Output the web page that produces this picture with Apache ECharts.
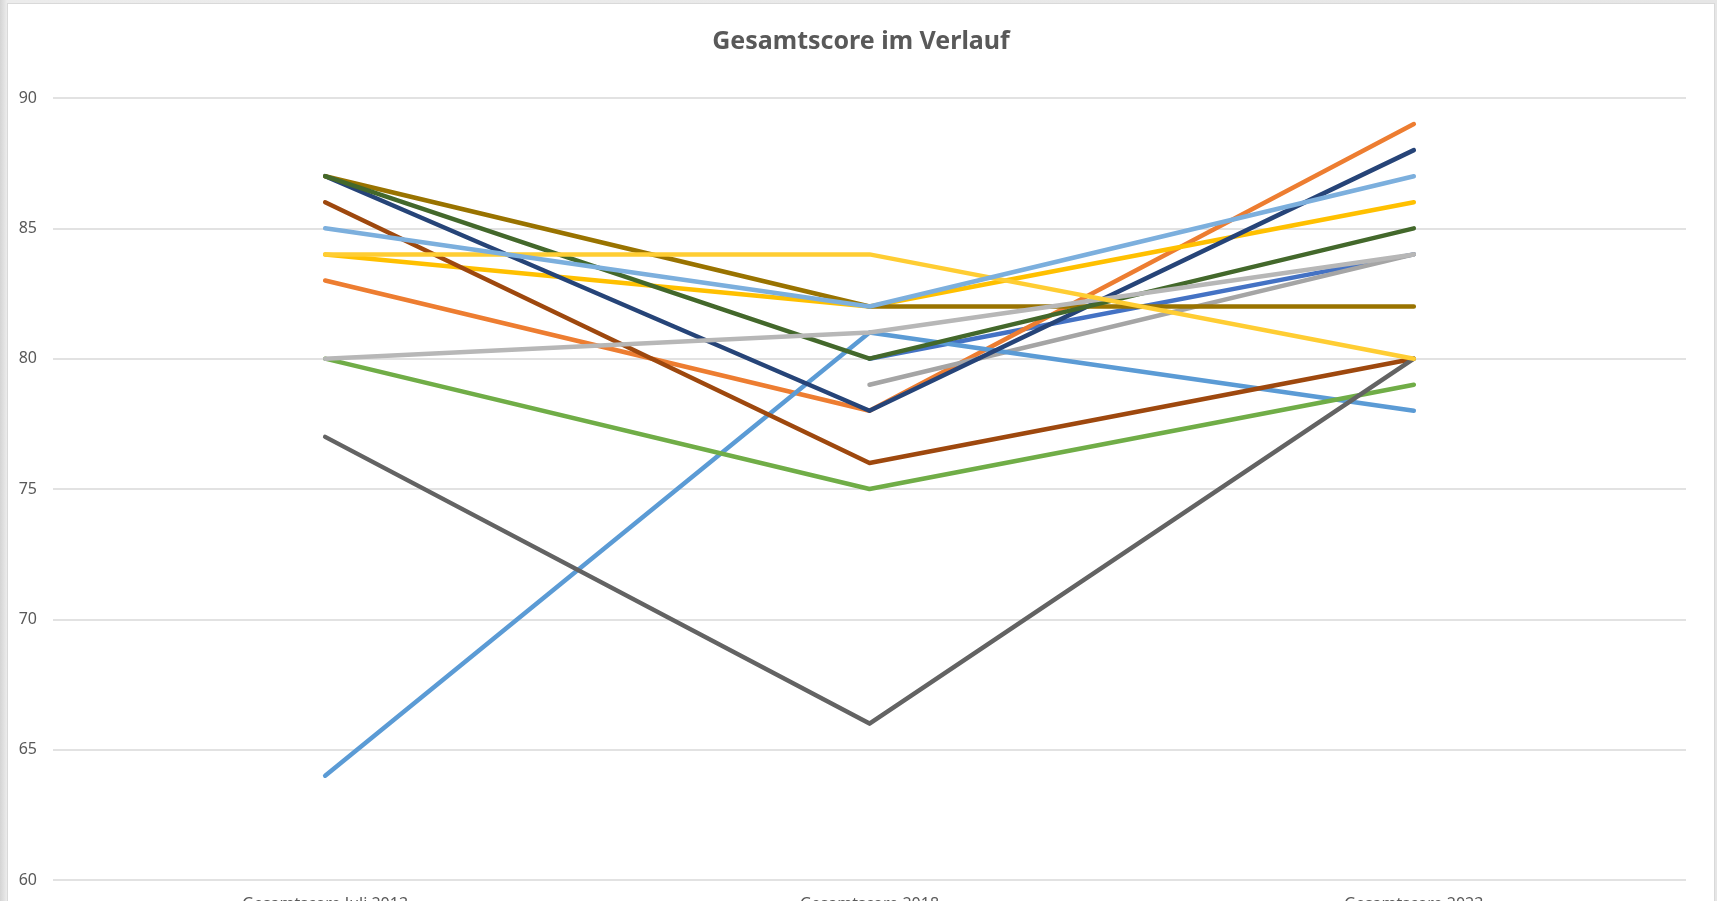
<!DOCTYPE html>
<html>
<head>
<meta charset="utf-8">
<title>Gesamtscore im Verlauf</title>
<script src="https://cdn.jsdelivr.net/npm/echarts@6/dist/echarts.min.js"></script>
<style>
  html, body {
    margin: 0;
    padding: 0;
    width: 1717px;
    height: 901px;
    overflow: hidden;
    background: linear-gradient(to right, #d4d4d4 0px, #ececec 7px, #e6e6e6 100%);
  }
  #chart {
    position: absolute;
    left: 7px;
    top: 3px;
    width: 1706px;
    height: 900px;
    background: #ffffff;
    border: 1px solid #d9d9d9;
  }
</style>
</head>
<body>
<div id="chart"></div>
<script>
// Kategorien (x-Achse)
const categories = ["Gesamtscore Juli 2013", "Gesamtscore 2018", "Gesamtscore 2023"];

// Werte je Linie (null = kein Wert)
const reihe1 = [null, 80, 84];
const reihe2 = [83, 78, 89];
const reihe3 = [null, 79, 84];
const reihe4 = [84, 82, 86];
const reihe5 = [64, 81, 78];
const reihe6 = [80, 75, 79];
const reihe7 = [87, 78, 88];
const reihe8 = [86, 76, 80];
const reihe9 = [77, 66, 80];
const reihe10 = [87, 82, 82];
const reihe11 = [87, 80, 85];
const reihe12 = [80, 81, 84];
const reihe13 = [84, 84, 80];
const reihe14 = [85, 82, 87];

const allSeries = [reihe1, reihe2, reihe3, reihe4, reihe5, reihe6, reihe7,
  reihe8, reihe9, reihe10, reihe11, reihe12, reihe13, reihe14];
const colors = ["#4472C4", "#ED7D31", "#A5A5A5", "#FFC000", "#5B9BD5", "#70AD47", "#264478",
  "#9E480E", "#636363", "#997300", "#43682B", "#B7B7B7", "#FFCD33", "#7CAFDD"];

// y-Achse
const yMin = 60;
const yMax = 90;
const yStep = 5;

const font = "'Noto Sans', 'Open Sans', sans-serif";
const myChart = echarts.init(document.getElementById("chart"));

const option = {
  animation: false,
  title: {
    text: "Gesamtscore im Verlauf",
    left: "center",
    top: 20,
    textStyle: {
      fontFamily: font,
      fontSize: 25,
      fontWeight: "bold",
      color: "#595959",
    },
  },
  grid: {
    left: 45,
    right: 28,
    top: 94,
    bottom: 24,
    containLabel: false,
    outerBoundsMode: "none",
  },
  xAxis: {
    type: "category",
    data: categories,
    boundaryGap: true,
    axisLine: { show: false },
    axisTick: { show: false },
    axisLabel: {
      margin: 16,
      fontFamily: font,
      fontSize: 16,
      color: "#595959",
    },
  },
  yAxis: {
    type: "value",
    min: yMin,
    max: yMax,
    interval: yStep,
    axisLine: { show: false },
    axisTick: { show: false },
    axisLabel: {
      margin: 16,
      fontFamily: font,
      fontSize: 16,
      color: "#595959",
    },
    splitLine: { lineStyle: { color: "#d9d9d9", width: 1.5 } },
  },
  series: allSeries.map((values, i) => ({
    name: "Reihe " + (i + 1),
    type: "line",
    data: values,
    symbol: "none",
    connectNulls: false,
    lineStyle: { color: colors[i], width: 4.5, cap: "round", join: "round" },
    itemStyle: { color: colors[i] },
  })),
};

myChart.setOption(option);
</script>
</body>
</html>
